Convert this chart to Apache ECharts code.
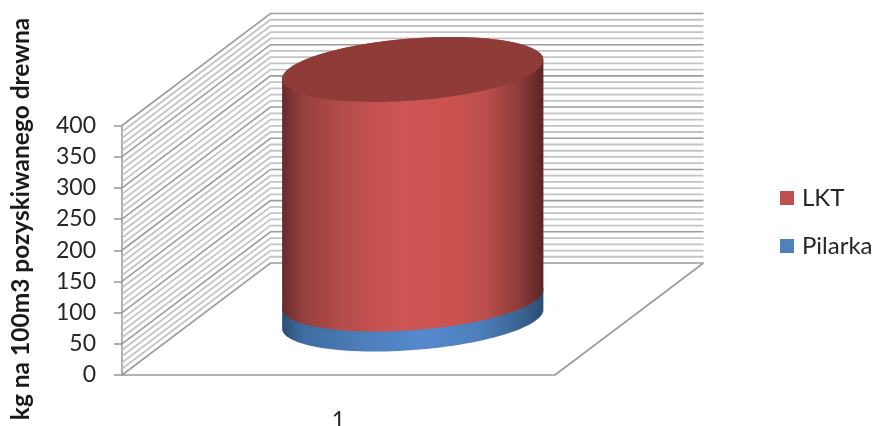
<!DOCTYPE html>
<html>
<head>
<meta charset="utf-8">
<style>html,body{margin:0;padding:0;background:#fff}#chart{width:876px;height:426px}</style>
<script src="https://cdn.jsdelivr.net/npm/echarts@6/dist/echarts.min.js"></script>
</head>
<body>
<div id="chart"></div>
<script>
var categories = ['1'];
var lktValues = [368];
var pilarkaValues = [32];
var yTicks = [0, 50, 100, 150, 200, 250, 300, 350, 400];
var minorTicks = [10, 20, 30, 40, 60, 70, 80, 90, 110, 120, 130, 140, 160, 170, 180, 190, 210, 220, 230, 240,
    260, 270, 280, 290, 310, 320, 330, 340, 360, 370, 380, 390];
var yTitle = 'kg na 100m3 pozyskiwanego drewna';

var FONT = 'Lato, "Open Sans", sans-serif';
// przesuniecie tylnej sciany wzgledem przedniej (rzut ukosny)
var DEPTH_X = 148.5;
var DEPTH_Y = -112;
// osie elipsy walca
var ELL_U = 125;
var ELL_VX = 38;
var ELL_VY = -32.5;

var myChart = echarts.init(document.getElementById('chart'));

function gradient(stops) {
    return new echarts.graphic.LinearGradient(0, 0, 1, 0, stops.map(function (s) {
        return {offset: s[0], color: s[1]};
    }));
}

var redStops = [[0, '#672b2a'], [0.08, '#94403e'], [0.21, '#b04b49'], [0.34, '#c45250'], [0.47, '#cd5654'],
    [0.68, '#c9524f'], [0.785, '#b84d4b'], [0.91, '#8c3c3a'], [1, '#5a2423']];
var blueStops = [[0, '#2c4f75'], [0.08, '#3f6ba0'], [0.3, '#4c7eba'], [0.55, '#5589cd'], [0.75, '#4c7fbc'],
    [0.92, '#3a6290'], [1, '#2b4d72']];

// os elipsy: punkty od skrajnego t1 do t2
function arc(cx, cy, from, to) {
    var pts = [];
    for (var i = 0; i <= 60; i++) {
        var t = from + (to - from) * i / 60;
        pts.push([cx + ELL_U * Math.cos(t) + ELL_VX * Math.sin(t), cy + ELL_VY * Math.sin(t)]);
    }
    return pts;
}

var T0 = Math.atan2(ELL_VX, ELL_U);

function renderWall(params, api) {
    var cs = params.coordSys;
    var v = api.value(0);
    var y = api.coord([0, v])[1];
    var major = yTicks.indexOf(v) >= 0;
    var style = {stroke: major ? '#9c9c9c' : '#c4c4c4', lineWidth: major ? 1.6 : 1.8, fill: null};
    var x0 = cs.x, x1 = cs.x + DEPTH_X, x2 = cs.x + cs.width + DEPTH_X, y1 = y + DEPTH_Y;
    return {
        type: 'polyline',
        silent: true,
        shape: {points: [[x0, y], [x1, y1], [x2, y1]]},
        style: style
    };
}

function renderFloor(params) {
    var cs = params.coordSys;
    var b = cs.y + cs.height;
    return {
        type: 'polyline',
        silent: true,
        shape: {points: [[cs.x + cs.width, b], [cs.x + cs.width + DEPTH_X, b + DEPTH_Y]]},
        style: {stroke: '#9c9c9c', lineWidth: 1.6, fill: null}
    };
}

function renderCylinder(stops, showTop) {
    return function (params, api) {
        var cx = api.coord([api.value(0), 0])[0] + DEPTH_X / 2;
        var yLow = api.coord([0, api.value(1)])[1] + DEPTH_Y / 2;
        var yHigh = api.coord([0, api.value(2)])[1] + DEPTH_Y / 2;
        var front = arc(cx, yLow, T0 + Math.PI, T0 + 2 * Math.PI);
        var back = arc(cx, yHigh, T0, T0 + Math.PI);
        var children = [{
            type: 'polygon',
            shape: {points: front.concat(back)},
            style: {fill: gradient(stops)}
        }];
        if (showTop) {
            children.push({
                type: 'polygon',
                shape: {points: arc(cx, yHigh, 0, 2 * Math.PI)},
                style: {fill: '#8f3b38'}
            });
        }
        return {type: 'group', children: children};
    };
}

var option = {
    animation: false,
    backgroundColor: '#fff',
    textStyle: {fontFamily: FONT},
    grid: {left: 122, right: 321, top: 125.5, bottom: 51, containLabel: false, outerBoundsMode: 'none'},
    legend: {
        orient: 'vertical',
        left: 780,
        top: 186,
        padding: 0,
        icon: 'rect',
        itemWidth: 14,
        itemHeight: 14,
        itemGap: 24,
        data: ['LKT', 'Pilarka'],
        textStyle: {fontSize: 24, color: '#262626', fontFamily: FONT, padding: [0, 0, 0, 3]}
    },
    xAxis: {
        type: 'category',
        data: categories,
        axisLine: {lineStyle: {color: '#9c9c9c', width: 1.6}},
        axisTick: {show: false},
        axisLabel: {fontSize: 23, color: '#262626', margin: 34, fontFamily: FONT}
    },
    yAxis: {
        type: 'value',
        min: 0,
        max: 400,
        interval: 50,
        axisLine: {show: true, lineStyle: {color: '#9c9c9c', width: 1.6}},
        axisTick: {show: true, length: 8, lineStyle: {color: '#9c9c9c', width: 1.6}},
        splitLine: {show: false},
        axisLabel: {fontSize: 23, color: '#262626', margin: 26, fontFamily: FONT, lineHeight: 23, padding: [6, 0, 0, 0]}
    },
    graphic: [{
        type: 'text',
        x: 21,
        y: 219,
        rotation: Math.PI / 2,
        style: {
            text: yTitle,
            font: 'bold 24.5px ' + FONT,
            fill: '#1a1a1a',
            textAlign: 'center',
            textVerticalAlign: 'middle'
        }
    }],
    series: [
        {
            type: 'custom',
            name: 'walls',
            coordinateSystem: 'cartesian2d',
            silent: true,
            z: 1,
            renderItem: renderWall,
            encode: {y: 0},
            data: minorTicks.concat(yTicks).map(function (v) { return [v]; })
        },
        {
            type: 'custom',
            name: 'floor',
            coordinateSystem: 'cartesian2d',
            silent: true,
            z: 1,
            renderItem: renderFloor,
            data: [[0]]
        },
        {
            type: 'custom',
            name: 'Pilarka',
            coordinateSystem: 'cartesian2d',
            z: 3,
            itemStyle: {color: '#4f81bd'},
            renderItem: renderCylinder(blueStops, false),
            encode: {x: 0, y: 2},
            data: categories.map(function (c, i) { return [i, 0, pilarkaValues[i]]; })
        },
        {
            type: 'custom',
            name: 'LKT',
            coordinateSystem: 'cartesian2d',
            z: 4,
            itemStyle: {color: '#c0504d'},
            renderItem: renderCylinder(redStops, true),
            encode: {x: 0, y: 2},
            data: categories.map(function (c, i) {
                return [i, pilarkaValues[i], pilarkaValues[i] + lktValues[i]];
            })
        }
    ]
};

myChart.setOption(option);
</script>
</body>
</html>
